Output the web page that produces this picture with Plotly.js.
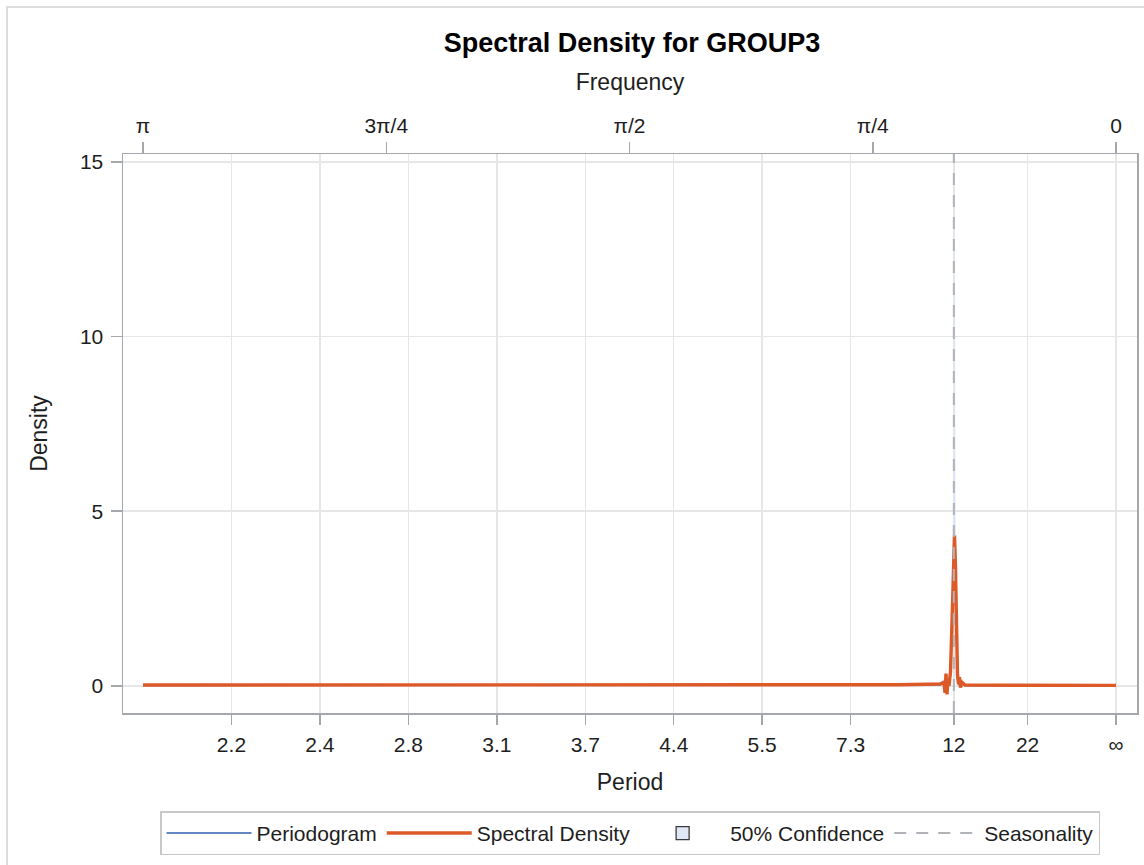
<!DOCTYPE html>
<html>
<head>
<meta charset="utf-8">
<script src="https://cdn.plot.ly/plotly-3.0.1.min.js"></script>
<style>
  html, body { margin: 0; padding: 0; background: #ffffff; }
  #frame { position: absolute; left: 6px; top: 6px; width: 1300px; height: 1000px;
           border-left: 2px solid #dcdcdc; border-top: 2px solid #dcdcdc; }
  #chart { position: absolute; left: 0; top: 0; width: 1144px; height: 865px; }
</style>
</head>
<body>
<div id="frame"></div>
<div id="chart"></div>
<script>
// ---- data (frequency in radians) ----
const frequency = [3.1416, 2.8, 2.312, 1.9, 1.343, 1.0, 0.6975, 0.5683, 0.5554, 0.5521, 0.5489, 0.5457,
                   0.5425, 0.5392, 0.5344, 0.5295, 0.5247, 0.5215, 0.5183, 0.5150, 0.5118, 0.5086,
                   0.5053, 0.5021, 0.4973, 0.4876, 0.3746, 0.2131, 0.1, 0.0];
const spectralDensity = [0.02, 0.02, 0.02, 0.02, 0.02, 0.02, 0.03, 0.05, 0.10, -0.20, 0.35, -0.25,
                         0.20, 0.00, 0.40, 1.80, 3.60, 4.30, 3.40, 1.50, 0.30, 0.05,
                         0.25, -0.05, 0.10, 0.02, 0.02, 0.01, 0.01, 0.01];
const periodogram = [0.01, 0.01, 0.01, 0.01, 0.01, 0.01, 0.02, 0.03, 0.05, -0.1, 0.2, -0.1,
                     0.1, 0.00, 0.3, 1.5, 3.2, 4.0, 3.0, 1.2, 0.2, 0.03,
                     0.15, 0.00, 0.05, 0.01, 0.01, 0.01, 0.01, 0.01];
const confLower = [0.01, 0.01, 0.01, 0.01, 0.01, 0.01, 0.02, 0.03, 0.05, -0.2, 0.2, -0.25,
                   0.1, 0.00, 0.2, 1.0, 2.0, 2.4, 1.9, 0.8, 0.15, 0.03,
                   0.12, -0.05, 0.05, 0.01, 0.01, 0.01, 0.01, 0.01];
const confUpper = [0.04, 0.04, 0.04, 0.04, 0.04, 0.04, 0.06, 0.1, 0.2, 0.1, 0.6, 0.1,
                   0.4, 0.05, 0.8, 3.0, 6.0, 20.0, 5.5, 2.5, 0.5, 0.1,
                   0.4, 0.05, 0.2, 0.04, 0.04, 0.02, 0.02, 0.02];
const seasonalPeriod = 12;

const periodTickValues = [2.2, 22/9, 2.75, 22/7, 22/6, 4.4, 5.5, 22/3, 12, 22, Infinity];
const periodTickLabels = ["2.2", "2.4", "2.8", "3.1", "3.7", "4.4", "5.5", "7.3", "12", "22", "\u221E"];
const freqTickValues = [Math.PI, 3*Math.PI/4, Math.PI/2, Math.PI/4, 0];
const freqTickLabels = ["\u03C0", "3\u03C0/4", "\u03C0/2", "\u03C0/4", "0"];
const densityTicks = [0, 5, 10, 15];

// ---- styles ----
const xRange = [Math.PI + 0.0646, -0.0678];
const yRange = [-0.78, 15.23];
const FONT = '"Liberation Sans", Arial, sans-serif';
const TXT = '#1e1e1e';
const AXLINE = '#a4a8ac';
const GRID = '#e6e6e6';
const BAND = 'rgba(218,230,245,0.85)';

const periodToFreq = p => (isFinite(p) ? 2 * Math.PI / p : 0);
const seasonFreq = periodToFreq(seasonalPeriod);

const bandX = frequency.concat(frequency.slice().reverse());
const bandY = confUpper.concat(confLower.slice().reverse());

const traces = [
  { x: bandX, y: bandY, type: 'scatter', mode: 'lines', fill: 'toself',
    fillcolor: BAND, line: { width: 0, color: BAND },
    name: '50% Confidence', showlegend: false, hoverinfo: 'skip' },
  { x: frequency, y: periodogram, type: 'scatter', mode: 'lines',
    line: { color: '#2f5fae', width: 1.5 }, name: 'Periodogram', legendrank: 1 },
  { x: frequency, y: spectralDensity, type: 'scatter', mode: 'lines',
    line: { color: '#dd5a28', width: 3.4 }, name: 'Spectral Density', legendrank: 2 },
  { x: [null], y: [null], type: 'scatter', mode: 'markers',
    marker: { symbol: 'square', size: 13, color: '#dfe8f4', line: { color: '#3a3a3a', width: 1.3 } },
    name: '50% Confidence', legendrank: 3, hoverinfo: 'skip' },
  { x: [seasonFreq, seasonFreq], y: yRange, type: 'scatter', mode: 'lines', xaxis: 'x2',
    line: { color: '#b0b4b8', width: 2, dash: '12px,10px' }, name: 'Seasonality', legendrank: 4,
    hoverinfo: 'skip' }
];

const layout = {
  width: 1144, height: 865,
  paper_bgcolor: 'rgba(0,0,0,0)', plot_bgcolor: '#ffffff',
  margin: { l: 123, r: 7, t: 154, b: 152, pad: 0, autoexpand: false },
  font: { family: FONT, color: TXT, size: 21 },
  title: { text: '<b>Spectral Density for GROUP3</b>', font: { family: FONT, size: 27, color: '#000' },
           x: 0.5525, xanchor: 'center', y: 1 - 43/865, yanchor: 'middle' },
  xaxis: {
    range: xRange, tickmode: 'array',
    tickvals: periodTickValues.map(periodToFreq), ticktext: periodTickLabels,
    showgrid: true, gridcolor: GRID, gridwidth: 1.5, zeroline: false,
    showline: true, linecolor: AXLINE, linewidth: 1.5,
    ticks: 'outside', ticklen: 10, tickcolor: AXLINE, tickwidth: 1.5,
    ticklabelstandoff: 2, automargin: false,
    tickfont: { size: 21, color: TXT },
    title: { text: 'Period', font: { size: 23, color: TXT }, standoff: 19 }
  },
  xaxis2: {
    overlaying: 'x', side: 'top', anchor: 'y', range: xRange, tickmode: 'array',
    tickvals: freqTickValues, ticktext: freqTickLabels,
    showgrid: false, zeroline: false, automargin: false,
    showline: true, linecolor: AXLINE, linewidth: 1.5,
    ticks: 'outside', ticklen: 11, tickcolor: AXLINE, tickwidth: 1.5,
    tickfont: { size: 21, color: TXT },
    title: { text: 'Frequency', font: { size: 23, color: TXT }, standoff: 17 }
  },
  yaxis: {
    range: yRange, tickmode: 'array', tickvals: densityTicks,
    showgrid: true, gridcolor: GRID, gridwidth: 1.5, zeroline: false,
    showline: true, mirror: true, linecolor: AXLINE, linewidth: 1.5,
    ticks: 'outside', ticklen: 11, tickcolor: AXLINE, tickwidth: 1.5,
    ticklabelstandoff: 3, automargin: false,
    tickfont: { size: 21, color: TXT },
    title: { text: 'Density', font: { size: 23, color: TXT }, standoff: 26 }
  },
  showlegend: true,
  legend: {
    orientation: 'h', x: 0.5, xanchor: 'center', y: -0.176, yanchor: 'top',
    bordercolor: '#c8c8c8', borderwidth: 1.5, bgcolor: '#ffffff',
    font: { size: 21, color: TXT }, traceorder: 'normal', itemwidth: 85
  }
};

Plotly.newPlot('chart', traces, layout, { displayModeBar: false, staticPlot: true });
</script>
</body>
</html>
